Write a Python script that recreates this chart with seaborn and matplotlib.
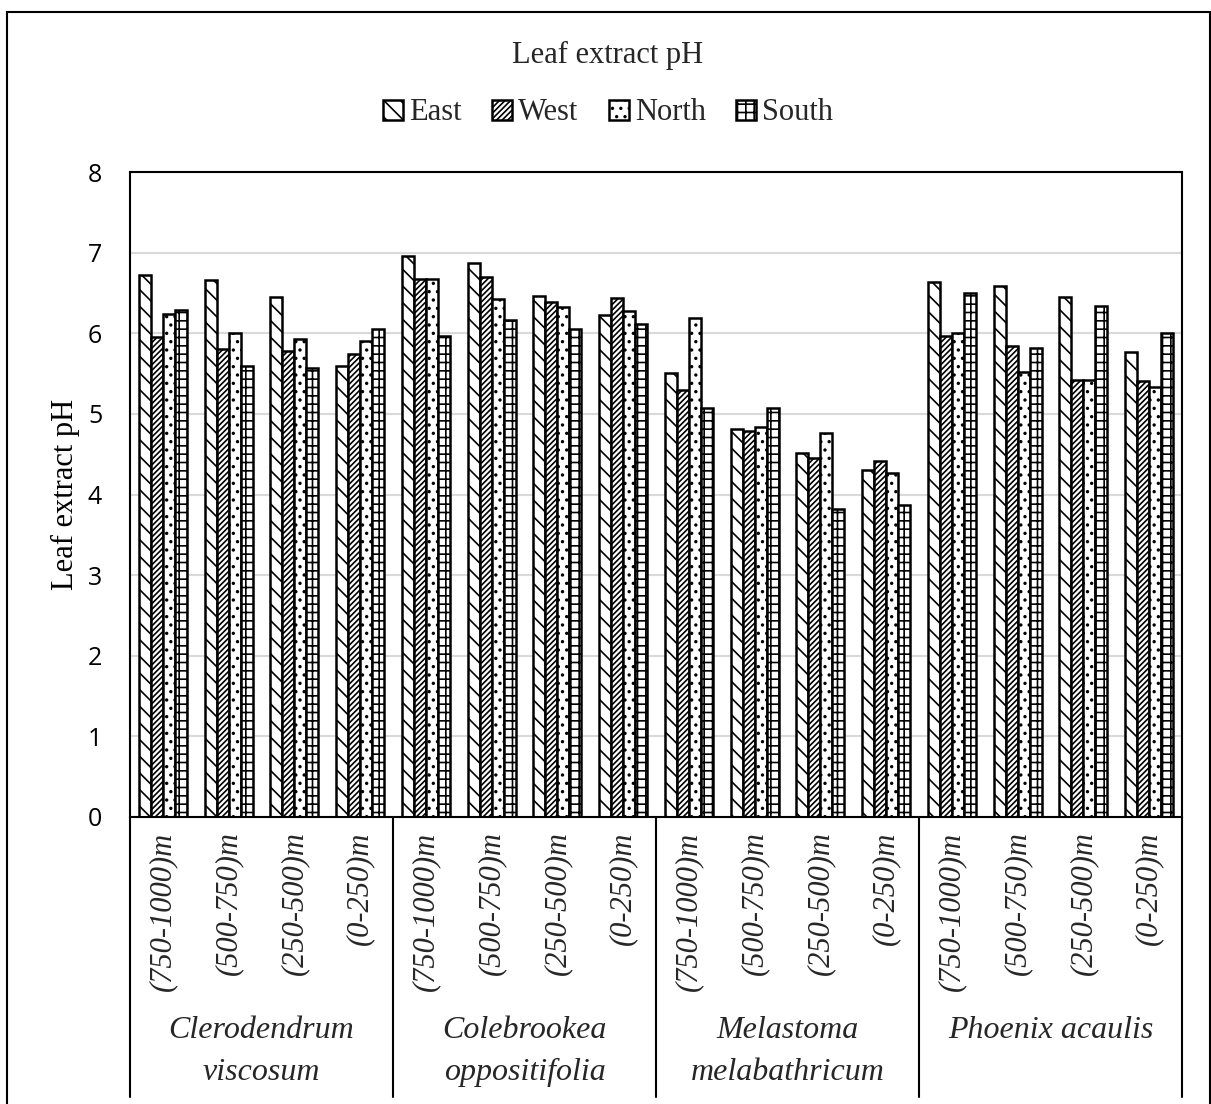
import matplotlib
matplotlib.use("Agg")
import matplotlib.pyplot as plt
import seaborn as sns
import pandas as pd
import numpy as np
from matplotlib.patches import Rectangle
from matplotlib.lines import Line2D

species = ["Clerodendrum\nviscosum", "Colebrookea\noppositifolia",
           "Melastoma\nmelabathricum", "Phoenix acaulis"]
ranges = ["(750-1000)m", "(500-750)m", "(250-500)m", "(0-250)m"]
directions = ["East", "West", "North", "South"]

east = [6.72, 6.66, 6.45, 5.59, 6.96, 6.87, 6.46, 6.23,
        5.51, 4.81, 4.52, 4.31, 6.64, 6.58, 6.45, 5.77]
west = [5.95, 5.81, 5.78, 5.74, 6.67, 6.70, 6.39, 6.44,
        5.29, 4.79, 4.45, 4.42, 5.97, 5.84, 5.42, 5.41]
north = [6.24, 6.00, 5.93, 5.91, 6.67, 6.42, 6.33, 6.28,
         6.19, 4.84, 4.76, 4.27, 6.00, 5.52, 5.42, 5.33]
south = [6.29, 5.60, 5.57, 6.05, 5.96, 6.17, 6.05, 6.11,
         5.07, 5.07, 3.82, 3.87, 6.50, 5.82, 6.34, 6.00]

cats = [f"{s}|{r}" for s in species for r in ranges]
rows = []
for d, vals in zip(directions, [east, west, north, south]):
    for c, v in zip(cats, vals):
        rows.append({"cat": c, "dir": d, "pH": v})
df = pd.DataFrame(rows)

sns.set_style("white")
plt.rcParams["hatch.linewidth"] = 1.2
serif = ["Liberation Serif", "DejaVu Serif"]

W, H = 1211, 1104
fig = plt.figure(figsize=(W / 100, H / 100), dpi=100)
L, R, T, B = 130, 1182, 172, 817
ax = fig.add_axes([L / W, 1 - B / H, (R - L) / W, (B - T) / H])

sns.barplot(data=df, x="cat", y="pH", hue="dir", order=cats,
            hue_order=directions, width=0.73,
            palette=["white"] * 4, edgecolor="black", linewidth=1.8,
            errorbar=None, ax=ax, legend=False, gap=0)

hatches = {"East": "\\\\", "West": "//////", "North": "..", "South": "++"}
for cont, d in zip(ax.containers, directions):
    for p in cont:
        p.set_hatch(hatches[d])
        p.set_facecolor("white")
        p.set_edgecolor("black")

ax.set_ylim(0, 8)
ax.set_xlim(-0.5, len(cats) - 0.5)
ax.set_yticks(range(0, 9))
ax.yaxis.grid(True, color="#d9d9d9", linewidth=1.5)
ax.set_axisbelow(True)
ax.tick_params(axis="y", labelsize=18, length=0, pad=20, labelcolor="black")
for lab in ax.get_yticklabels():
    lab.set_family(["Open Sans", "DejaVu Sans"])
for s in ax.spines.values():
    s.set_visible(True)
    s.set_color("black")
    s.set_linewidth(1.5)
ax.set_xlabel("")
ax.set_xticks([])
ax.set_ylabel("Leaf extract pH", fontsize=22, family=serif, labelpad=6,
              color="black")

# inner (range) labels
for i, c in enumerate(cats):
    rng = c.split("|")[1]
    ax.text(i, -0.18, rng, rotation=90, ha="center", va="top",
            fontsize=22, style="italic", family=serif,
            transform=ax.transData, clip_on=False)

# group labels and separators
for g, sp in enumerate(species):
    xc = g * 4 + 1.5
    ax.text(xc, -2.47, sp, ha="center", va="top", fontsize=23,
            style="italic", family=serif, linespacing=1.6,
            transform=ax.transData, clip_on=False)
sep_y0 = 1 - B / H
sep_y1 = 1 - 1097 / H
for g in range(5):
    xpix = L + g * (R - L) / 4
    fig.add_artist(Line2D([xpix / W, xpix / W], [sep_y0, sep_y1],
                          color="black", linewidth=1.5,
                          transform=fig.transFigure))

# title and legend
fig.text(608 / W, 1 - 55 / H, "Leaf extract pH",
         ha="center", va="center", fontsize=22, family=serif)
handles = [Rectangle((0, 0), 1, 1, facecolor="white", edgecolor="black",
                     hatch=hatches[d], linewidth=1.8) for d in directions]
fig.legend(handles, directions, loc="center", ncol=4,
           bbox_to_anchor=(608 / W, 1 - 113 / H), frameon=False,
           prop={"family": serif, "size": 22}, handlelength=0.65,
           handleheight=0.65, handletextpad=0.2, columnspacing=1.0)

# outer border
fig.add_artist(Rectangle((7 / W, -0.01), (1210 - 7) / W, 1 - 12 / H + 0.01,
                         fill=False, edgecolor="black", linewidth=1.5,
                         transform=fig.transFigure))

fig.savefig("out.png", dpi=100)
